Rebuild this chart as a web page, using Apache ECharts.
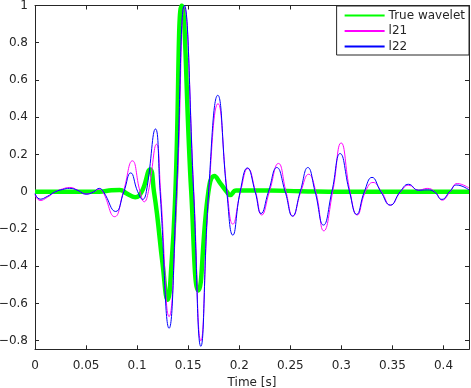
<!DOCTYPE html>
<html><head><meta charset="utf-8">
<script src="https://cdn.jsdelivr.net/npm/echarts@6/dist/echarts.min.js"></script>
<style>html,body{margin:0;padding:0;background:#fff}#c{width:471px;height:388px}</style>
</head><body><div id="c"></div>
<script>
const xTicks = [0, 0.05, 0.1, 0.15, 0.2, 0.25, 0.3, 0.35, 0.4];
const yTicks = [-0.8, -0.6, -0.4, -0.2, 0, 0.2, 0.4, 0.6, 0.8, 1];
const seriesNames = ['True wavelet', 'l21', 'l22'];

const trueT = [0, 0.03, 0.063, 0.075, 0.083, 0.09, 0.098, 0.1045, 0.1127, 0.1165, 0.1195, 0.125, 0.1298, 0.1338, 0.1375, 0.1437, 0.153, 0.1600, 0.1698, 0.1757, 0.1815, 0.1878, 0.191, 0.197, 0.23, 0.26, 0.3, 0.425];
const trueV = [0, 0, 0.0, 0.008, 0.01, -0.01, -0.029, 0.0, 0.12, 0.0, -0.12, -0.39, -0.58, -0.38, 0, 1.0, 0, -0.53, 0, 0.085, 0.045, 0, -0.018, 0.006, 0.006, 0.003, 0, 0];

const l21T = [0, 0.005, 0.012, 0.02, 0.027, 0.034, 0.042, 0.05, 0.057, 0.063, 0.0665, 0.078, 0.0865, 0.0954, 0.1029, 0.107, 0.111, 0.119, 0.123, 0.1313, 0.139, 0.1463, 0.1555, 0.1624, 0.1703, 0.1792, 0.1882, 0.1937, 0.2012, 0.2085, 0.216, 0.222, 0.2295, 0.2384, 0.2458, 0.2525, 0.2603, 0.268, 0.275, 0.2828, 0.2915, 0.2998, 0.3085, 0.3155, 0.3235, 0.331, 0.3393, 0.348, 0.358, 0.366, 0.3756, 0.384, 0.3915, 0.3988, 0.4065, 0.4135, 0.425];
const l21V = [-0.015, -0.047, -0.03, 0.0, 0.015, 0.023, 0.008, -0.012, -0.002, 0.014, 0, -0.134, 0, 0.166, 0, -0.054, 0, 0.255, 0, -0.67, 0, 0.99, 0, -0.80, 0, 0.473, 0, -0.174, 0, 0.125, 0, -0.125, 0, 0.152, 0, -0.131, 0, 0.094, 0, -0.21, 0, 0.262, 0, -0.125, 0, 0.05, 0, -0.072, 0, 0.035, 0.008, 0.018, 0, -0.045, 0, 0.044, 0.02];

const l22T = [0, 0.005, 0.012, 0.02, 0.027, 0.034, 0.042, 0.05, 0.057, 0.063, 0.067, 0.079, 0.087, 0.0937, 0.1006, 0.1055, 0.109, 0.118, 0.1225, 0.1313, 0.1385, 0.1463, 0.1553, 0.1624, 0.1700, 0.179, 0.1878, 0.1937, 0.2009, 0.208, 0.2156, 0.2214, 0.2286, 0.2368, 0.245, 0.2522, 0.2597, 0.2672, 0.2743, 0.2825, 0.2907, 0.2988, 0.308, 0.315, 0.3225, 0.330, 0.3387, 0.348, 0.3576, 0.3658, 0.3756, 0.384, 0.391, 0.3985, 0.406, 0.413, 0.425];
const l22V = [-0.01, -0.04, -0.025, 0.0, 0.012, 0.018, 0.007, -0.013, -0.002, 0.018, 0, -0.106, 0, 0.101, 0, -0.041, 0, 0.337, 0, -0.733, 0, 1.0, 0, -0.83, 0, 0.518, 0, -0.233, 0, 0.128, 0, -0.117, 0, 0.13, 0, -0.131, 0, 0.13, 0, -0.179, 0, 0.205, 0, -0.122, 0, 0.077, 0, -0.072, 0, 0.04, 0.008, 0.01, 0, -0.041, 0, 0.036, 0.01];

const X_MIN = 0, X_MAX = 0.425, Y_MIN = -0.846, Y_MAX = 1;
const FONT = 'DejaVu Sans';
const INK = '#262626';

function pairs(t, v) { return t.map((x, i) => [x, v[i]]); }
const fmtX = v => String(Math.round(v * 100) / 100);
const fmtY = v => String(Math.round(v * 10) / 10).replace('-', '\u2212');

const chart = echarts.init(document.getElementById('c'), null, { renderer: 'canvas' });
const axisCommon = {
  type: 'value',
  axisLine: { show: true, onZero: false, lineStyle: { color: INK, width: 1 } },
  splitLine: { show: false }
};
chart.setOption({
  animation: false,
  backgroundColor: '#fff',
  grid: { left: 35, right: 2, top: 5.5, bottom: 38.7, containLabel: false, outerBoundsMode: 'none' },
  xAxis: [
    Object.assign({}, axisCommon, {
      min: X_MIN, max: X_MAX, position: 'bottom',
      axisTick: { inside: true, length: 4, customValues: xTicks, lineStyle: { color: INK } },
      axisLabel: { customValues: xTicks, formatter: fmtX, margin: 10.5, fontFamily: FONT, fontSize: 12, color: INK },
      name: 'Time [s]', nameLocation: 'middle', nameGap: 24,
      nameTextStyle: { fontFamily: FONT, fontSize: 12, color: INK }
    }),
    Object.assign({}, axisCommon, {
      min: X_MIN, max: X_MAX, position: 'top',
      axisTick: { inside: true, length: 4, customValues: xTicks, lineStyle: { color: INK } },
      axisLabel: { show: false }
    })
  ],
  yAxis: [
    Object.assign({}, axisCommon, {
      min: Y_MIN, max: Y_MAX, position: 'left',
      axisTick: { inside: true, length: 4, customValues: yTicks, lineStyle: { color: INK } },
      axisLabel: { customValues: yTicks, formatter: fmtY, margin: 7, fontFamily: FONT, fontSize: 12, color: INK }
    }),
    Object.assign({}, axisCommon, {
      min: Y_MIN, max: Y_MAX, position: 'right',
      axisTick: { inside: true, length: 4, customValues: yTicks, lineStyle: { color: INK } },
      axisLabel: { show: false }
    })
  ],
  legend: {
    data: seriesNames,
    orient: 'vertical', right: 2, top: 6,
    itemWidth: 40, itemHeight: 13, itemGap: 3.5,
    padding: [3.5, 4, 2.5, 7],
    borderColor: INK, borderWidth: 1, borderRadius: 0, backgroundColor: '#fff',
    itemStyle: { opacity: 0 },
    textStyle: { fontFamily: FONT, fontSize: 12, color: INK, padding: [0, 0, 0, -1] }
  },
  series: [
    { name: seriesNames[0], type: 'line', data: pairs(trueT, trueV), smooth: 0.5, symbol: 'none', showSymbol: false,
      lineStyle: { color: '#00ff00', width: 4.5 }, itemStyle: { color: '#00ff00' }, z: 2 },
    { name: seriesNames[1], type: 'line', data: pairs(l21T, l21V), smooth: 0.5, symbol: 'none', showSymbol: false,
      lineStyle: { color: '#ff00ff', width: 1 }, itemStyle: { color: '#ff00ff' }, z: 3 },
    { name: seriesNames[2], type: 'line', data: pairs(l22T, l22V), smooth: 0.5, symbol: 'none', showSymbol: false,
      lineStyle: { color: '#0000ff', width: 1 }, itemStyle: { color: '#0000ff' }, z: 4 }
  ]
});
</script>
</body></html>
